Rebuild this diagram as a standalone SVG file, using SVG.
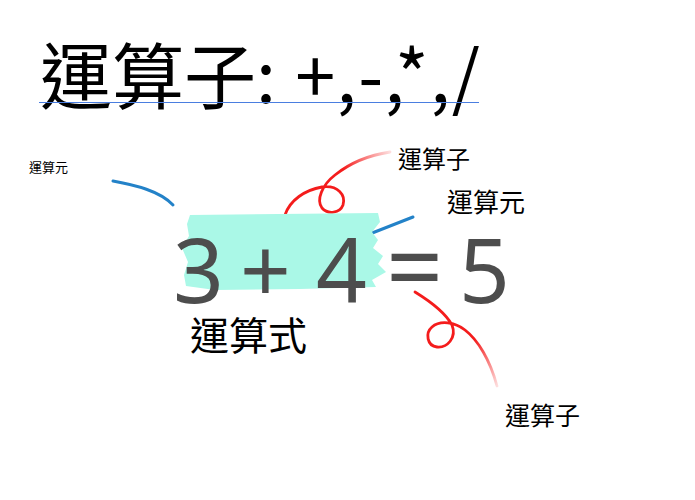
<svg xmlns="http://www.w3.org/2000/svg" width="695" height="500" viewBox="0 0 695 500">
  <defs>
    <style>
      .cjk { font-family: "Noto Sans CJK TC", "Noto Sans CJK SC", sans-serif; fill: #000; }
      .num { font-family: "Noto Sans", "Open Sans", sans-serif; fill: #4d4d4d; font-size: 89px; }
      .blue { fill: none; stroke: #2382c8; stroke-width: 3; stroke-linecap: round; }
      .red { fill: none; stroke-width: 2.8; stroke-linecap: round; }
    </style>
    <linearGradient id="fadeTop" gradientUnits="userSpaceOnUse" x1="285" y1="215" x2="390" y2="152">
      <stop offset="0" stop-color="#f41c1c" stop-opacity="1"/>
      <stop offset="0.6" stop-color="#f41c1c" stop-opacity="1"/>
      <stop offset="1" stop-color="#f41c1c" stop-opacity="0.15"/>
    </linearGradient>
    <linearGradient id="fadeBot" gradientUnits="userSpaceOnUse" x1="415" y1="292" x2="497" y2="386">
      <stop offset="0" stop-color="#f41c1c" stop-opacity="1"/>
      <stop offset="0.6" stop-color="#f41c1c" stop-opacity="1"/>
      <stop offset="1" stop-color="#f41c1c" stop-opacity="0.15"/>
    </linearGradient>
  </defs>
  <rect width="695" height="500" fill="#fff"/>

  <g id="title">
    <text class="cjk" x="40" y="103" font-size="72">運算子<tspan letter-spacing="1.5">: +,-,*,/</tspan></text>
    <line x1="39" y1="102.5" x2="479" y2="102.5" stroke="#4a7ee0" stroke-width="1"/>
  </g>

  <g id="connectors">
    <path class="blue" d="M113,181 C135,185 160,191 173,205"/>
    <path class="blue" d="M362,237 L413,217"/>
    <path class="red" stroke="url(#fadeTop)" d="M285,215 C290,200 305,190 322,187 C338,185 346,195 343,205 C340,213 328,215 322,208 C316,200 322,185 335,175 C350,163 370,155 390,152"/>
    <path class="red" stroke="url(#fadeBot)" d="M415,292 C428,300 445,312 452,325 C457,338 447,348 437,347 C427,346 425,333 432,327 C440,320 455,322 465,330 C478,340 490,360 497,386"/>
  </g>

  <g id="highlight">
    <path fill="#aaf8e7" d="M190,215 L378,213 L380,222 L372,232 L378,240 L373,248 L383,256 L378,264 L386,272 L372,280 L376,287 L300,289 L215,290 L186,286 L184,275 L188,262 L182,248 L189,236 L187,224 Z"/>
  </g>

  <g id="equation">
    <text class="num" y="303"><tspan x="173">3</tspan><tspan x="240">+</tspan><tspan x="316">4</tspan><tspan x="386" font-size="100">=</tspan><tspan x="459">5</tspan></text>
  </g>

  <g id="label-operand-left"><text class="cjk" x="29" y="172" font-size="13">運算元</text></g>
  <g id="label-operator-top"><text class="cjk" x="398" y="168" font-size="24">運算子</text></g>
  <g id="label-operand-right"><text class="cjk" x="447" y="212" font-size="26">運算元</text></g>
  <g id="label-expression"><text class="cjk" x="190" y="350" font-size="39">運算式</text></g>
  <g id="label-operator-bottom"><text class="cjk" x="505" y="425" font-size="25">運算子</text></g>
</svg>
